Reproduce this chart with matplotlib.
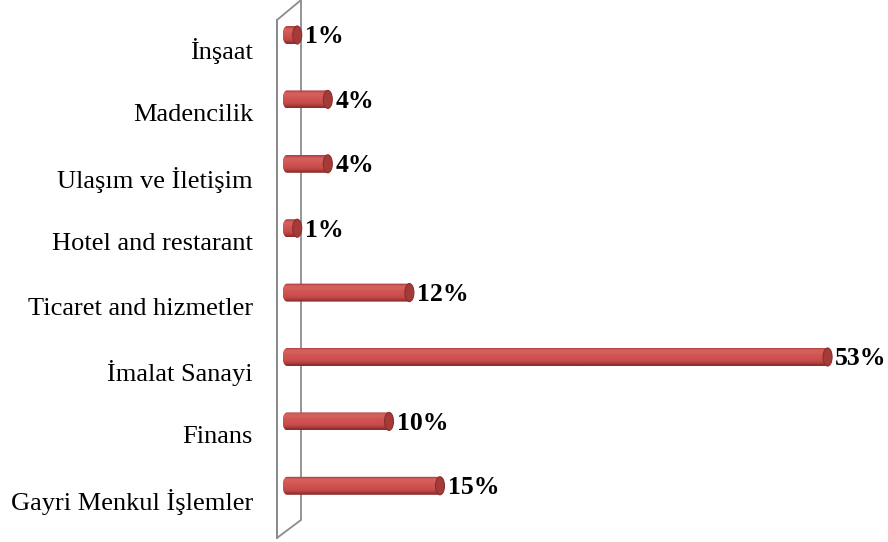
import matplotlib
matplotlib.use('Agg')
import matplotlib.pyplot as plt
from matplotlib.path import Path
from matplotlib.patches import PathPatch, Ellipse
import numpy as np

categories = ['İnşaat', 'Madencilik', 'Ulaşım ve İletişim', 'Hotel and restarant',
              'Ticaret and hizmetler', 'İmalat Sanayi', 'Finans', 'Gayri Menkul İşlemler']
values = [1, 4, 4, 1, 12, 53, 10, 15]
value_labels = ['1%', '4%', '4%', '1%', '12%', '53%', '10%', '15%']

# pixel scale of the original picture
px_per_pct = 10.2
px_per_row = 64.4

fig = plt.figure(figsize=(8.88, 5.42), dpi=100)
ax = fig.add_axes([0, 0, 1, 1])
ax.axis('off')

bar_h = 18 / px_per_row
cap_w = 4.5 / px_per_pct

# vertical shading of the cylinder, top to bottom
shade = np.array([
    (176, 70, 68), (212, 96, 93), (214, 94, 91), (210, 88, 85),
    (206, 84, 81), (202, 80, 77), (196, 76, 73), (178, 64, 62), (140, 46, 44),
]) / 255.0
grad = shade.reshape(-1, 1, 3)

# back wall (3D style)
n = len(categories)
xl, xr = -10 / px_per_pct, 14 / px_per_pct
top_l, top_r = -0.233, -0.543
bot_l, bot_r = n - 1 + 0.81, n - 1 + 0.53
ax.plot([xl, xl, xr, xr, xl, xl], [top_l, bot_l, bot_r, top_r, top_l, bot_l],
        color='#8c8c8c', lw=1.3, zorder=1, solid_joinstyle='miter')

for i, (cat, v, lab) in enumerate(zip(categories, values, value_labels)):
    y0, y1 = i - bar_h / 2, i + bar_h / 2
    t = np.linspace(np.pi / 2, 3 * np.pi / 2, 20)
    ex = cap_w * np.cos(t)
    ey = i - (bar_h / 2) * np.sin(t)
    verts = list(zip(ex, ey)) + [(v, y1), (v, y0), (ex[0], ey[0])]
    codes = [Path.MOVETO] + [Path.LINETO] * (len(verts) - 2) + [Path.CLOSEPOLY]
    body = PathPatch(Path(verts, codes), transform=ax.transData,
                     facecolor='none', edgecolor='none')
    ax.add_patch(body)
    im = ax.imshow(grad, extent=(-cap_w, v, y1, y0), origin='upper',
                   aspect='auto', interpolation='bilinear', zorder=3)
    im.set_clip_path(body)
    cap = Ellipse((v, i), 2 * cap_w, bar_h, facecolor='#a53b38',
                  edgecolor='#8a2e2c', lw=0.8, zorder=4)
    ax.add_patch(cap)

    ax.text(v + cap_w + 3 / px_per_pct, i + 0.03, lab, ha='left', va='center',
            fontsize=18.5, fontweight='bold', family='Liberation Serif', zorder=5)
    ax.text(-34 / px_per_pct, i + 16 / px_per_row, cat, ha='right', va='center',
            fontsize=19, family='Liberation Serif')

ax.set_xlim(-287 / px_per_pct, (888 - 287) / px_per_pct)
ax.set_ylim((542 - 35) / px_per_row, -35 / px_per_row)

fig.savefig('out.png', dpi=100, facecolor='white')
